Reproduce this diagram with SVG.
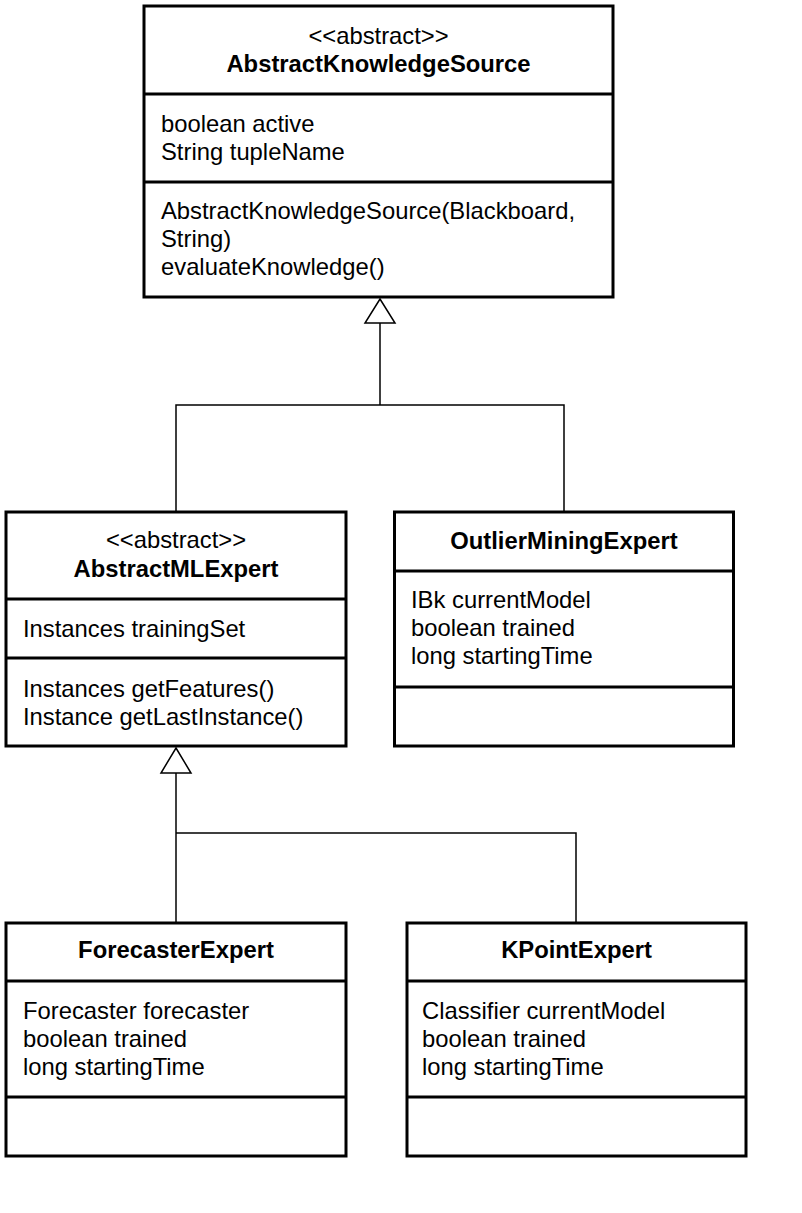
<svg xmlns="http://www.w3.org/2000/svg" width="802" height="1213" viewBox="0 0 802 1213">
<style>
.box{fill:#fff;stroke:#000;stroke-width:3}
.div{stroke:#000;stroke-width:3}
text{font-family:"Liberation Sans",Arial,Helvetica,sans-serif;font-size:23.8px;fill:#000}
.c{text-anchor:middle}
.b{font-weight:bold}
.conn{fill:none;stroke:#000;stroke-width:1.5}
.tri{fill:#fff;stroke:#000;stroke-width:1.5}
</style>
<rect width="802" height="1213" fill="#fff"/>
<g id="connectors">
<path class="conn" d="M380,322 V405"/>
<path class="conn" d="M176,511 V405 H564 V512"/>
<path class="conn" d="M176,772 V922"/>
<path class="conn" d="M176,833 H576 V922"/>
<polygon class="tri" points="380,299 395,323 365,323"/>
<polygon class="tri" points="176,748 191,773 161,773"/>
</g>
<g id="AbstractKnowledgeSource">
<rect class="box" x="144" y="6" width="469" height="291"/>
<line class="div" x1="144" y1="94" x2="613" y2="94"/>
<line class="div" x1="144" y1="182" x2="613" y2="182"/>
<text class="c" x="378.5" y="44">&lt;&lt;abstract&gt;&gt;</text>
<text class="c b" x="378.5" y="72">AbstractKnowledgeSource</text>
<text x="161" y="132">boolean active</text>
<text x="161" y="160">String tupleName</text>
<text x="161" y="219">AbstractKnowledgeSource(Blackboard,</text>
<text x="161" y="247">String)</text>
<text x="161" y="275">evaluateKnowledge()</text>
</g>
<g id="AbstractMLExpert">
<rect class="box" x="6" y="512" width="340" height="234"/>
<line class="div" x1="6" y1="599" x2="346" y2="599"/>
<line class="div" x1="6" y1="658" x2="346" y2="658"/>
<text class="c" x="176" y="548">&lt;&lt;abstract&gt;&gt;</text>
<text class="c b" x="176" y="577">AbstractMLExpert</text>
<text x="23" y="637">Instances trainingSet</text>
<text x="23" y="697">Instances getFeatures()</text>
<text x="23" y="725">Instance getLastInstance()</text>
</g>
<g id="OutlierMiningExpert">
<rect class="box" x="394.5" y="512" width="339" height="234"/>
<line class="div" x1="394.5" y1="571" x2="733.5" y2="571"/>
<line class="div" x1="394.5" y1="687" x2="733.5" y2="687"/>
<text class="c b" x="564" y="549">OutlierMiningExpert</text>
<text x="411" y="608">IBk currentModel</text>
<text x="411" y="636">boolean trained</text>
<text x="411" y="664">long startingTime</text>
</g>
<g id="ForecasterExpert">
<rect class="box" x="6" y="923" width="340" height="233"/>
<line class="div" x1="6" y1="981" x2="346" y2="981"/>
<line class="div" x1="6" y1="1097" x2="346" y2="1097"/>
<text class="c b" x="176" y="958">ForecasterExpert</text>
<text x="23" y="1019">Forecaster forecaster</text>
<text x="23" y="1047">boolean trained</text>
<text x="23" y="1075">long startingTime</text>
</g>
<g id="KPointExpert">
<rect class="box" x="407" y="923" width="339" height="233"/>
<line class="div" x1="407" y1="981" x2="746" y2="981"/>
<line class="div" x1="407" y1="1097" x2="746" y2="1097"/>
<text class="c b" x="576.5" y="958">KPointExpert</text>
<text x="422" y="1019">Classifier currentModel</text>
<text x="422" y="1047">boolean trained</text>
<text x="422" y="1075">long startingTime</text>
</g>
</svg>
